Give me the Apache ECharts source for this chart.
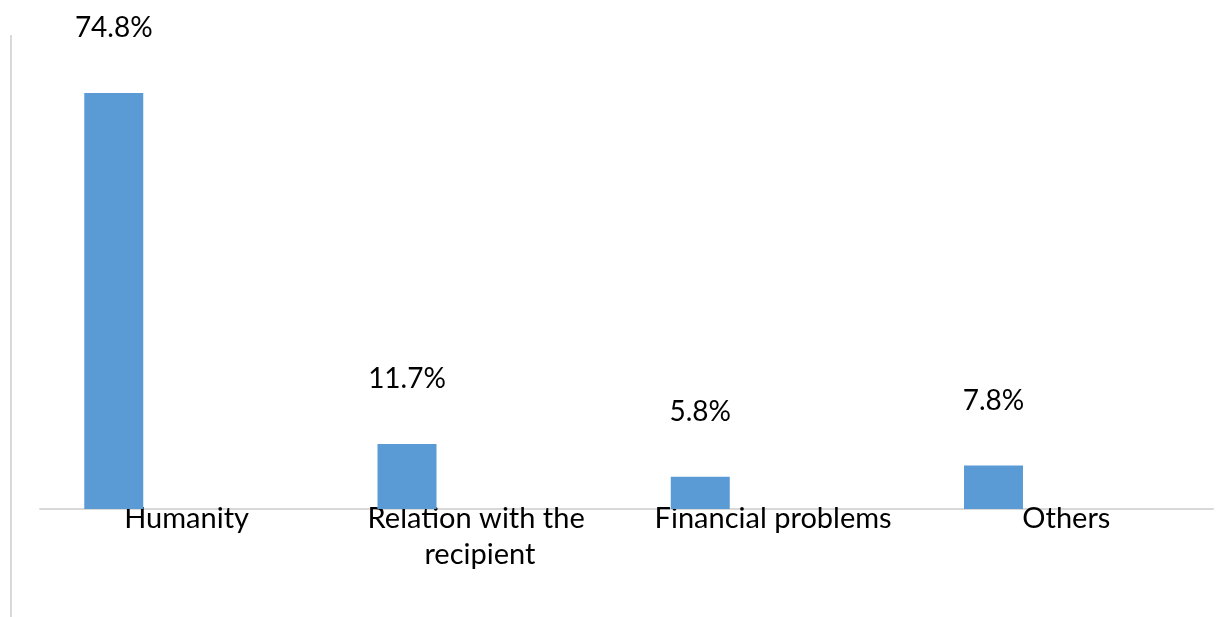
<!DOCTYPE html>
<html>
<head>
<meta charset="utf-8">
<script src="https://cdn.jsdelivr.net/npm/echarts@6/dist/echarts.min.js"></script>
<style>
  html, body { margin: 0; padding: 0; background: #ffffff; }
  #chart { width: 1231px; height: 617px; }
</style>
</head>
<body>
<div id="chart"></div>
<script>
// Reasons for donating (share of respondents, %)
const categories = ['Humanity', 'Relation with the recipient', 'Financial problems', 'Others'];
const shares = [74.8, 11.7, 5.8, 7.8];
// Second slot of each cluster is left empty
const emptySlot = [null, null, null, null];

const FONT = 'Lato';

const chart = echarts.init(document.getElementById('chart'), null, { renderer: 'canvas' });

chart.setOption({
  animation: false,
  backgroundColor: '#ffffff',
  grid: { left: 40, right: 18, top: 64, bottom: 108, containLabel: false },
  xAxis: {
    type: 'category',
    data: categories,
    axisLine: { show: true, lineStyle: { color: '#d9d9d9', width: 2 } },
    axisTick: { show: false },
    axisLabel: {
      interval: 0,
      margin: -8,
      color: '#000000',
      fontFamily: FONT,
      fontSize: 29,
      lineHeight: 36,
      width: 260,
      overflow: 'break'
    }
  },
  yAxis: {
    type: 'value',
    min: 0,
    max: 80,
    show: false,
    splitLine: { show: false }
  },
  graphic: [{
    type: 'line',
    shape: { x1: 11, y1: 35, x2: 11, y2: 617 },
    style: { stroke: '#d9d9d9', lineWidth: 2 },
    silent: true
  }],
  series: [
    {
      name: 'Share',
      type: 'bar',
      data: shares,
      barWidth: 59,
      barGap: '147%',
      itemStyle: { color: '#5b9bd5' },
      label: {
        show: true,
        position: 'top',
        distance: 51,
        color: '#000000',
        fontFamily: FONT,
        fontSize: 28,
        formatter: p => p.value.toFixed(1) + '%'
      }
    },
    {
      name: 'Empty',
      type: 'bar',
      data: emptySlot,
      barWidth: 59,
      itemStyle: { color: '#ed7d31' }
    }
  ]
});
</script>
</body>
</html>
